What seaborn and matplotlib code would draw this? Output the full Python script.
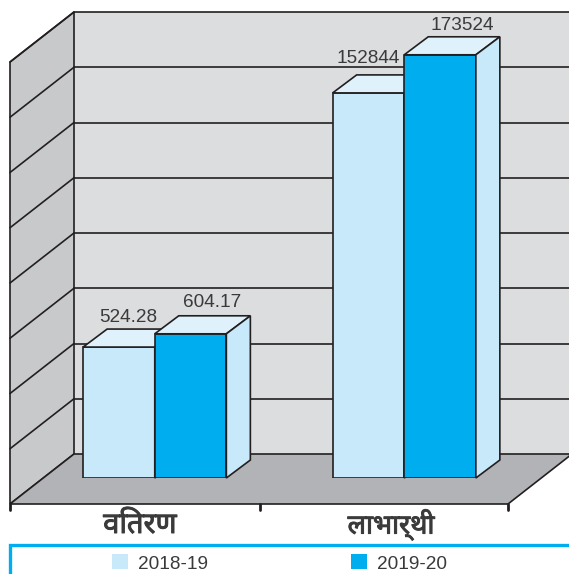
import pandas as pd
import seaborn as sns
import matplotlib.pyplot as plt
import matplotlib.patheffects as pe
from matplotlib.patches import Polygon, Rectangle

categories = ['वितरण', 'लाभार्थी']
years = ['2018-19', '2019-20']
values_2018 = ['524.28', '152844']
values_2019 = ['604.17', '173524']
# the picture is not to scale, so the bars go by their height in grid steps
heights_2018 = [2.37, 6.97]
heights_2019 = [2.61, 7.66]

LIGHT = '#c7e9f9'
DARK = '#00aeef'
TOP = '#dff2fc'
BACK_WALL = '#dcddde'
SIDE_WALL = '#c8c9cb'
FLOOR = '#b1b3b6'
LINE = '#231f20'
TEXT = '#3a3a3a'

sns.set_theme(style='white')
plt.rcParams['font.family'] = ['Liberation Sans', 'Noto Sans', 'DejaVu Sans']

df = pd.DataFrame({
    'category': categories * 2,
    'year': [years[0]] * 2 + [years[1]] * 2,
    'height': heights_2018 + heights_2019,
})

fig = plt.figure(figsize=(5.69, 5.74), dpi=100)

# chart box, in pixels of the picture
back = fig.add_axes([0, 0, 1, 1])
back.set_xlim(0, 569)
back.set_ylim(574, 0)
back.axis('off')

back.add_patch(Polygon([(74, 12), (600, 12), (600, 454), (74, 454)], fc=BACK_WALL, ec='none'))
back.add_patch(Polygon([(10, 62), (74, 12), (74, 454), (10, 504)], fc=SIDE_WALL, ec=LINE, lw=1.2))
back.add_patch(Polygon([(10, 504), (74, 454), (572, 454), (508, 504)], fc=FLOOR, ec=LINE, lw=1.2))
for i in range(8):
    y = 12 + i * 55.25
    back.plot([10, 74], [y + 50, y], color=LINE, lw=1.2)
    back.plot([74, 569], [y, y], color=LINE, lw=1.2)
for x in [10, 260, 508]:
    back.plot([x, x], [504, 510], color=LINE, lw=2)

heavy = [pe.withStroke(linewidth=0.7, foreground=TEXT)]
back.text(140, 525, categories[0], fontsize=21, fontweight='bold', color=TEXT, ha='center', va='center',
          path_effects=heavy)
back.text(391, 525, categories[1], fontsize=19.5, fontweight='bold', color=TEXT, ha='center', va='center',
          path_effects=heavy)

back.add_patch(Rectangle((10, 545), 600, 60, fc='white', ec=DARK, lw=2.4))

# bars
ax = fig.add_axes([30 / 569, 96 / 574, 499 / 569, 442 / 574])
ax.patch.set_alpha(0)
sns.barplot(data=df, x='category', y='height', hue='year', palette=[LIGHT, DARK],
            width=0.574, gap=0, edgecolor=LINE, linewidth=1.2, saturation=1, ax=ax)
ax.set_xlim(-0.5, 1.5)
ax.set_ylim(0, 8)
ax.axis('off')

dx = 24 / 249.5
dy = 18 / 55.25
label_offsets = [[(9, 30), (0, 34)], [(22, 31), (22, 29)]]
labels = [values_2018, values_2019]

for s, container in enumerate(ax.containers):
    for c, bar in enumerate(container):
        x0, w, h = bar.get_x(), bar.get_width(), bar.get_height()
        bar.set_zorder(3 + s)
        ax.add_patch(Polygon([(x0, h), (x0 + dx, h + dy), (x0 + w + dx, h + dy), (x0 + w, h)],
                             fc=TOP, ec=LINE, lw=1.2, zorder=3 + s, clip_on=False))
        ax.add_patch(Polygon([(x0 + w, 0), (x0 + w + dx, dy), (x0 + w + dx, h + dy), (x0 + w, h)],
                             fc=LIGHT, ec=LINE, lw=1.2, zorder=3 + s, clip_on=False))
        ox, oy = label_offsets[s][c]
        ax.annotate(labels[s][c], (x0 + w / 2, h), xytext=(ox, oy), textcoords='offset pixels',
                    ha='center', va='center', fontsize=13.7, color=TEXT, zorder=6)

handles = [Rectangle((0, 0), 1, 1, fc=LIGHT, ec='none'), Rectangle((0, 0), 1, 1, fc=DARK, ec='none')]
ax.get_legend().remove()
fig.legend(handles, years, ncol=2, frameon=False, fontsize=13.7, labelcolor=TEXT,
           handlelength=0.84, handleheight=0.84, handletextpad=0.54, columnspacing=7.5,
           loc='center left', bbox_to_anchor=(112 / 569, 10.5 / 574), borderpad=0, borderaxespad=0)

fig.savefig('out.png', dpi=100)
plt.close(fig)
